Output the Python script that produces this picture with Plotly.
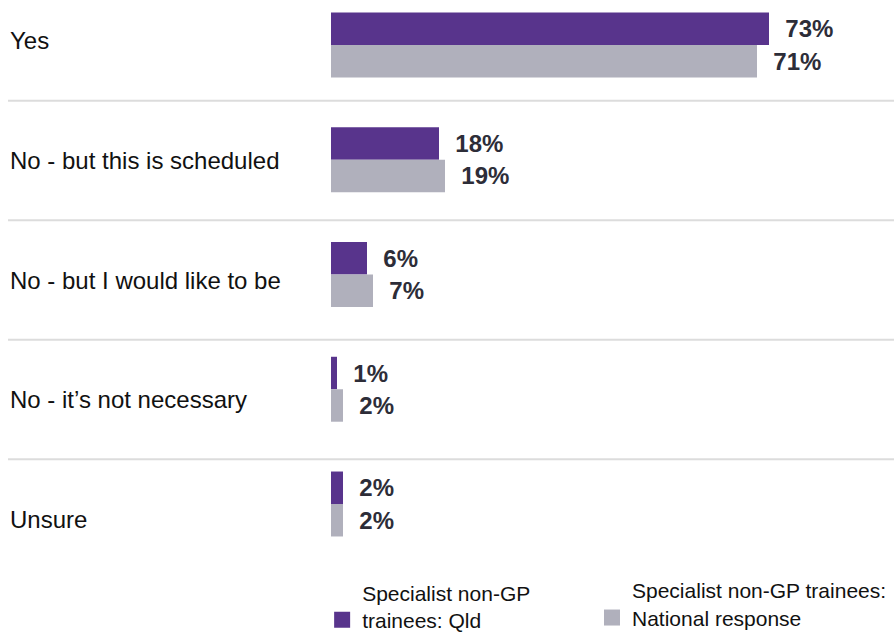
import plotly.graph_objects as go

# --- data ---
categories = [
    "Yes",
    "No - but this is scheduled",
    "No - but I would like to be",
    "No - it\u2019s not necessary",
    "Unsure",
]
qld_values = [73, 18, 6, 1, 2]
national_values = [71, 19, 7, 2, 2]
series_names = [
    "Specialist non-GP<br>trainees: Qld",
    "Specialist non-GP trainees:<br>National response",
]

PURPLE = "#58348C"
GREY = "#B0B0BC"
LABEL_COLOR = "#2D2D38"
FONT = "Arial, Liberation Sans, sans-serif"

W, H = 894, 635
LEFT, PLOT_X0 = 8, 331
x_dom0 = (PLOT_X0 - LEFT) / (W - LEFT)

fig = go.Figure()

for vals, color in [(qld_values, PURPLE), (national_values, GREY)]:
    fig.add_trace(
        go.Bar(
            y=categories,
            x=vals,
            orientation="h",
            marker=dict(color=color, line=dict(width=0)),
            text=[f"\u00a0\u00a0{v}%" for v in vals],
            textposition="outside",
            constraintext="none",
            cliponaxis=False,
            textfont=dict(family=FONT, size=24, color=LABEL_COLOR, weight="bold"),
            showlegend=False,
            hoverinfo="skip",
        )
    )

# legend entries (bigger square swatches than the default bar legend symbol)
for name, color, leg in [
    (series_names[0], PURPLE, "legend"),
    (series_names[1], GREY, "legend2"),
]:
    fig.add_trace(
        go.Scatter(
            x=[None],
            y=[None],
            mode="markers",
            name=name,
            marker=dict(symbol="square", size=18, color=color),
            legend=leg,
            hoverinfo="skip",
        )
    )

# invisible trace so the label axis (y2) is a real subplot axis
fig.add_trace(
    go.Scatter(x=[None], y=[None], yaxis="y2", mode="markers",
               showlegend=False, hoverinfo="skip")
)

# category labels on the label axis (spaced slightly differently from the bars)
for i, cat in enumerate(categories):
    fig.add_annotation(
        x=0,
        xref="paper",
        y=i,
        yref="y2",
        text=cat,
        showarrow=False,
        xanchor="left",
        yanchor="middle",
        font=dict(family=FONT, size=24, color="#111111"),
    )

# separator lines between categories
for i in range(len(categories) - 1):
    fig.add_shape(
        type="line",
        xref="paper",
        x0=0,
        x1=1,
        yref="y2",
        y0=i + 0.5,
        y1=i + 0.5,
        line=dict(color="#DCDCDC", width=2),
        layer="below",
    )

legend_style = dict(
    orientation="h",
    xanchor="left",
    yanchor="top",
    valign="bottom",
    font=dict(family=FONT, size=21, color="#111111"),
    bgcolor="rgba(0,0,0,0)",
)

fig.update_layout(
    width=W,
    height=H,
    margin=dict(l=LEFT, r=0, t=0, b=75, autoexpand=False),
    plot_bgcolor="white",
    paper_bgcolor="white",
    barmode="group",
    bargap=0.434,
    bargroupgap=0,
    showlegend=True,
    legend=dict(x=x_dom0 - 0.010, y=-0.022, **legend_style),
    legend2=dict(x=(592 - LEFT) / (W - LEFT), y=-0.018, **legend_style),
    xaxis=dict(
        domain=[x_dom0, 1],
        range=[0, (W - PLOT_X0) / 6.0],
        visible=False,
    ),
    yaxis=dict(
        type="category",
        categoryorder="array",
        categoryarray=categories,
        range=[4.488, -0.392],
        visible=False,
    ),
    yaxis2=dict(
        type="linear",
        overlaying="y",
        autorange=False,
        range=[4.343, -0.343],
        visible=False,
    ),
)

fig.write_html(
    "out.html",
    config={"displayModeBar": False},
    post_script="document.body.style.margin='0px';",
)
